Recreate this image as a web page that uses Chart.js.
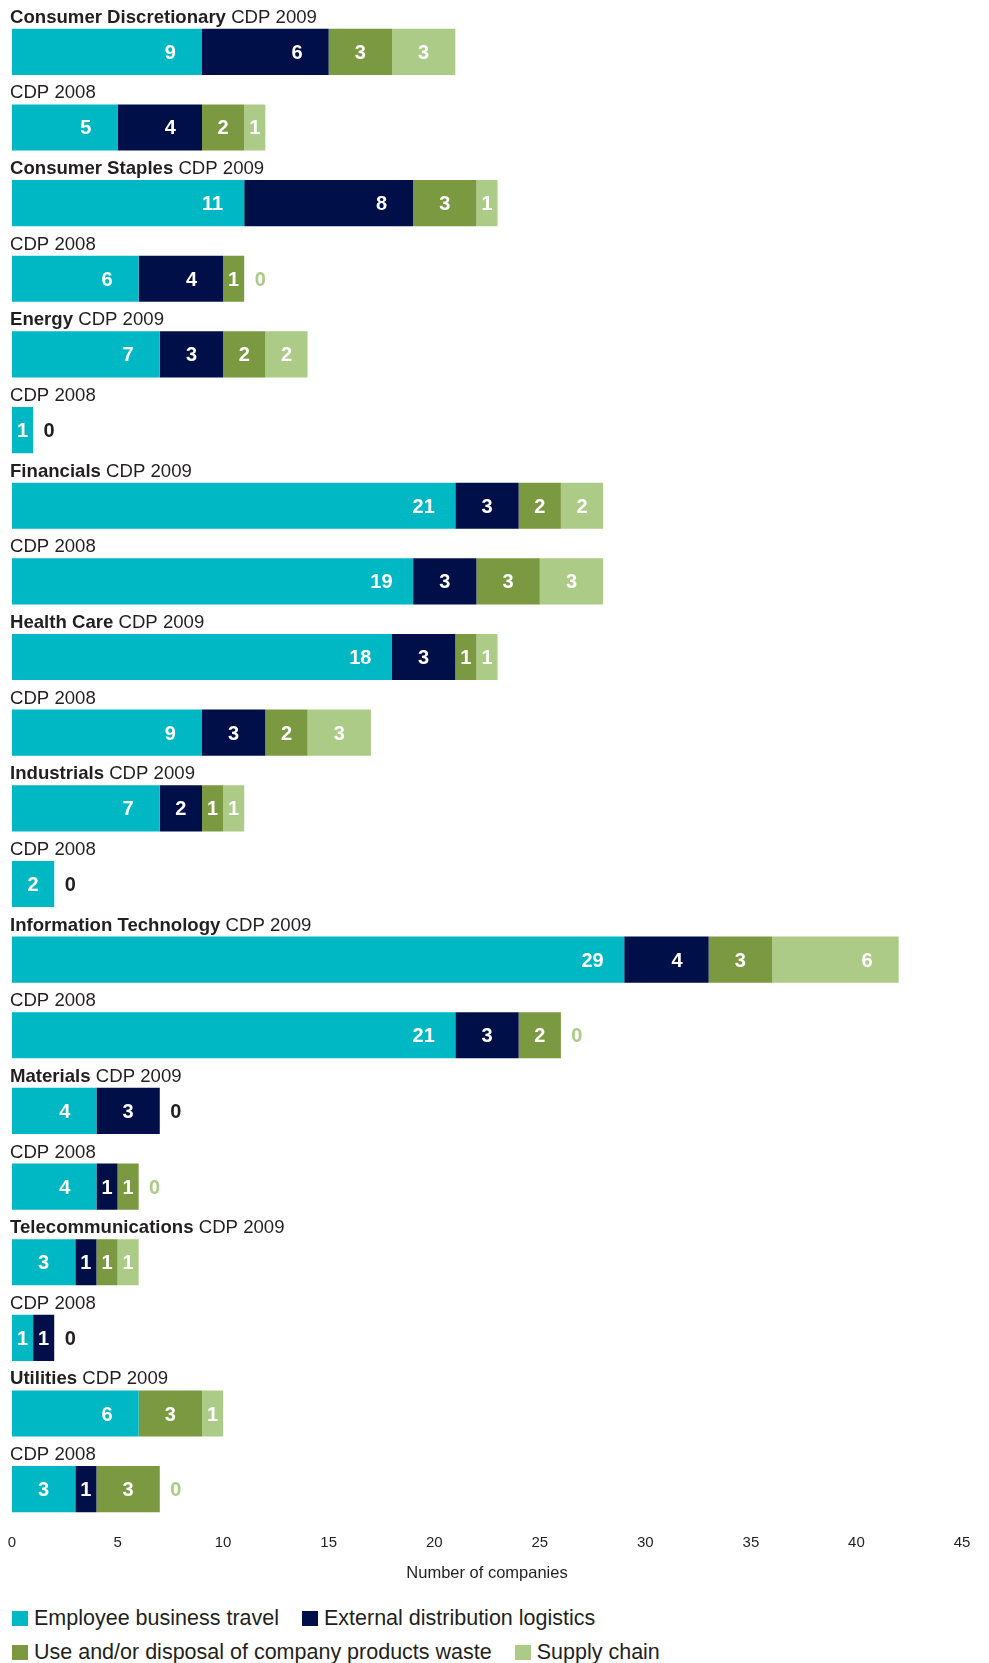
<!DOCTYPE html>
<html>
<head>
<meta charset="utf-8">
<title>Scope 3 emission sources by sector</title>
<script src="https://cdn.jsdelivr.net/npm/chart.js@4.4.1/dist/chart.umd.min.js"></script>
<style>
  body { margin: 0; background: #fff; font-family: "Liberation Sans", Arial, sans-serif; color: #231f20; }
  .chart-box { position: relative; width: 989px; height: 1590px; }
  #legend { margin: 11px 0 0 12px; font-size: 21.5px; }
  .legend-row { display: flex; align-items: center; height: 34px; }
  .legend-item { display: flex; align-items: center; margin-right: 23px; }
  .legend-item .box { width: 16px; height: 15px; margin-right: 6px; }
</style>
</head>
<body>
<div class="chart-box"><canvas id="sourcesChart"></canvas></div>
<div id="legend"></div>
<script>
const sectors = ['Consumer Discretionary', 'Consumer Staples', 'Energy', 'Financials', 'Health Care',
  'Industrials', 'Information Technology', 'Materials', 'Telecommunications', 'Utilities'];
const years = ['CDP 2009', 'CDP 2008'];
const seriesNames = ['Employee business travel', 'External distribution logistics',
  'Use and/or disposal of company products waste', 'Supply chain'];

// number of companies per sector, one array per year and source
const travel09 = [9, 11, 7, 21, 18, 7, 29, 4, 3, 6];
const travel08 = [5, 6, 1, 19, 9, 2, 21, 4, 1, 3];
const logistics09 = [6, 8, 3, 3, 3, 2, 4, 3, 1, 0];
const logistics08 = [4, 4, 0, 3, 3, 0, 3, 1, 1, 1];
const waste09 = [3, 3, 2, 2, 1, 1, 3, 0, 1, 3];
const waste08 = [2, 1, 0, 3, 2, 0, 2, 1, 0, 3];
const supply09 = [3, 1, 2, 2, 1, 1, 6, 0, 1, 1];
const supply08 = [1, 0, 0, 3, 3, 0, 0, 0, 0, 0];

const xTicks = [0, 5, 10, 15, 20, 25, 30, 35, 40, 45];

const colors = ['#00b7c4', '#000f48', '#7b9941', '#accb86'];
const textColor = '#231f20';
const fontFamily = '"Liberation Sans", Arial, sans-serif';

// 2009 row then 2008 row for every sector
function interleave(a, b) {
  const out = [];
  a.forEach((v, i) => { out.push(v, b[i]); });
  return out;
}

const rowNames = [];
sectors.forEach(s => { rowNames.push(s + ' ' + years[0], s + ' ' + years[1]); });

const seriesData = [
  interleave(travel09, travel08),
  interleave(logistics09, logistics08),
  interleave(waste09, waste08),
  interleave(supply09, supply08)
];

// headings above the bars, values inside the segments, and a "0" after bars with empty tails
const rowLabels = {
  id: 'rowLabels',
  afterDatasetsDraw(chart) {
    const ctx = chart.ctx;
    const xScale = chart.scales.x;
    const bars = chart.getDatasetMeta(0).data;
    ctx.save();
    bars.forEach((bar, row) => {
      const top = bar.y - bar.height / 2;
      ctx.textAlign = 'left';
      ctx.textBaseline = 'alphabetic';
      ctx.fillStyle = textColor;
      let tx = 10;
      if (row % 2 === 0) {
        ctx.font = 'bold 18.6px ' + fontFamily;
        const name = sectors[row / 2] + ' ';
        ctx.fillText(name, tx, top - 6);
        tx += ctx.measureText(name).width;
      }
      ctx.font = '18.6px ' + fontFamily;
      ctx.fillText(years[row % 2], tx, top - 6);

      const vals = chart.data.datasets.map(ds => ds.data[row]);
      ctx.font = 'bold 20px ' + fontFamily;
      ctx.textAlign = 'center';
      let end = 0;
      vals.forEach(v => {
        end += v;
        if (v > 0) {
          ctx.fillStyle = '#ffffff';
          ctx.fillText(String(v), xScale.getPixelForValue(end - Math.min(v, 3) / 2), bar.y + 7);
        }
      });

      let zeros = 0;
      for (let k = vals.length - 1; k >= 0 && vals[k] === 0; k--) zeros++;
      if (zeros > 0) {
        ctx.fillStyle = zeros === 1 ? colors[3] : textColor;
        ctx.fillText('0', xScale.getPixelForValue(end) + 16, bar.y + 7);
      }
    });
    ctx.restore();
  }
};

const chart = new Chart(document.getElementById('sourcesChart'), {
  type: 'bar',
  data: {
    labels: rowNames,
    datasets: seriesNames.map((name, i) => ({
      label: name,
      data: seriesData[i],
      backgroundColor: colors[i],
      borderWidth: 0,
      categoryPercentage: 1,
      barPercentage: 0.61
    }))
  },
  options: {
    indexAxis: 'y',
    responsive: true,
    maintainAspectRatio: false,
    animation: false,
    layout: { padding: { top: 14, left: 12, right: 27, bottom: 3 } },
    plugins: {
      legend: { display: false },
      tooltip: { enabled: false }
    },
    scales: {
      x: {
        stacked: true,
        min: 0,
        max: 45,
        afterBuildTicks: axis => { axis.ticks = xTicks.map(v => ({ value: v })); },
        afterFit: axis => { axis.height = 60; },
        grid: { display: false, drawTicks: false },
        border: { display: false },
        ticks: { padding: 7, color: textColor, font: { size: 15, family: fontFamily } },
        title: {
          display: true,
          text: 'Number of companies',
          color: textColor,
          font: { size: 16.5, family: fontFamily },
          padding: { top: 0, bottom: 4 }
        }
      },
      y: {
        stacked: true,
        display: false
      }
    }
  },
  plugins: [rowLabels]
});

// legend in two rows under the chart
const legend = document.getElementById('legend');
[[0, 1], [2, 3]].forEach(group => {
  const rowEl = document.createElement('div');
  rowEl.className = 'legend-row';
  group.forEach(i => {
    const item = document.createElement('div');
    item.className = 'legend-item';
    const box = document.createElement('span');
    box.className = 'box';
    box.style.background = colors[i];
    const label = document.createElement('span');
    label.textContent = seriesNames[i];
    item.appendChild(box);
    item.appendChild(label);
    rowEl.appendChild(item);
  });
  legend.appendChild(rowEl);
});
</script>
</body>
</html>
